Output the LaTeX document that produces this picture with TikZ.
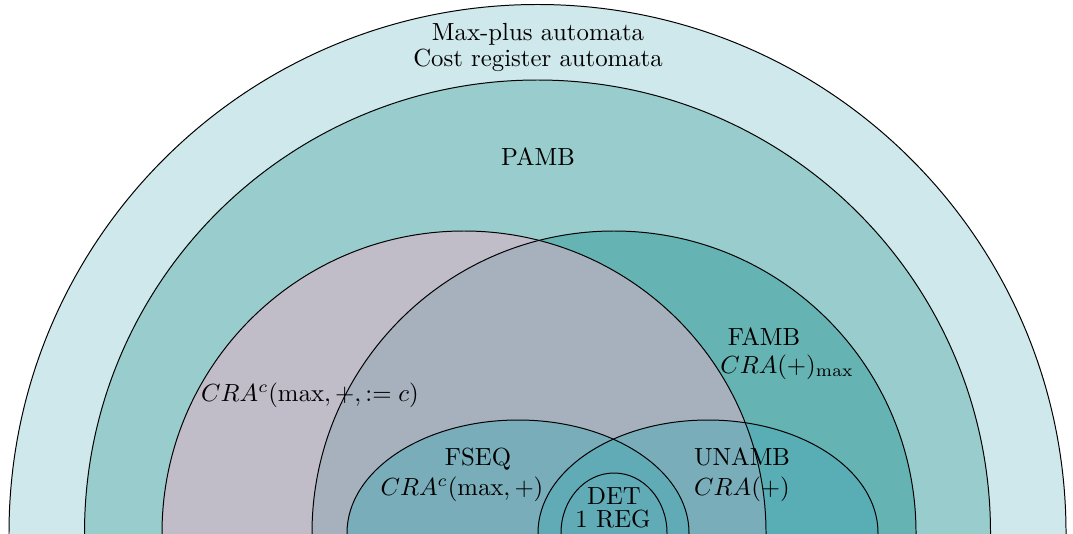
\documentclass[tikz,border=0pt]{standalone}
\definecolor{outerc}{RGB}{207,232,235}
\definecolor{pambc}{RGB}{153,204,204}
\definecolor{fambc}{RGB}{102,179,179}
\definecolor{leftc}{RGB}{231,176,200}
\definecolor{ellc}{RGB}{76,170,182}
\tikzset{
  lbl/.style={anchor=base, inner sep=0pt, font=\normalsize},
  edge/.style={draw=black, line width=0.4pt},
}
\begin{document}
\begin{tikzpicture}[x=0.4037pt,y=0.4037pt]
\path[use as bounding box] (0,0) rectangle (1073,533);
\clip (0,0) rectangle (1073,533);
% centres
\coordinate (c0) at (537.5,0);
\coordinate (cl) at (464,0);
\coordinate (cr) at (614,0);
\coordinate (cf) at (518,0);
\coordinate (cu) at (708,0);
\coordinate (cd) at (614,0);
% fills
\fill[outerc] (c0) circle[radius=528.5];
\fill[pambc] (c0) circle[radius=453];
\fill[fambc] (cr) circle[radius=302];
\fill[leftc, fill opacity=0.5] (cl) circle[radius=302];
\fill[ellc, fill opacity=0.5] (cf) ellipse[x radius=171, y radius=113];
\fill[ellc, fill opacity=0.5] (cu) ellipse[x radius=170, y radius=113];
% outlines
\draw[edge] (c0) circle[radius=528.5];
\draw[edge] (c0) circle[radius=453];
\draw[edge] (cr) circle[radius=302];
\draw[edge] (cl) circle[radius=302];
\draw[edge] (cf) ellipse[x radius=171, y radius=113];
\draw[edge] (cu) ellipse[x radius=170, y radius=113];
\draw[edge] (cd) ellipse[x radius=53, y radius=60];
% labels
\node[lbl] (mp) at (538,492) {Max-plus automata};
\node[lbl] (cra) at (538,466.5) {Cost register automata};
\node[lbl] (pamb) at (538,367.5) {PAMB};
\node[lbl] (craC) at (310,132) {$CRA^c(\max,+,:=c)$};
\node[lbl] (famb) at (764,188) {FAMB};
\node[lbl] (cramax) at (787,160) {$CRA(+)_{\max}$};
\node[lbl] (fseq) at (478,68) {FSEQ};
\node[lbl] (fseq2) at (462,38) {$CRA^c(\max,+)$};
\node[lbl] (unamb) at (742,68) {UNAMB};
\node[lbl] (unamb2) at (742,38) {$CRA(+)$};
\node[lbl] (det) at (614,29) {DET};
\node[lbl] (reg) at (613,6) {1 REG};
\end{tikzpicture}
\end{document}
